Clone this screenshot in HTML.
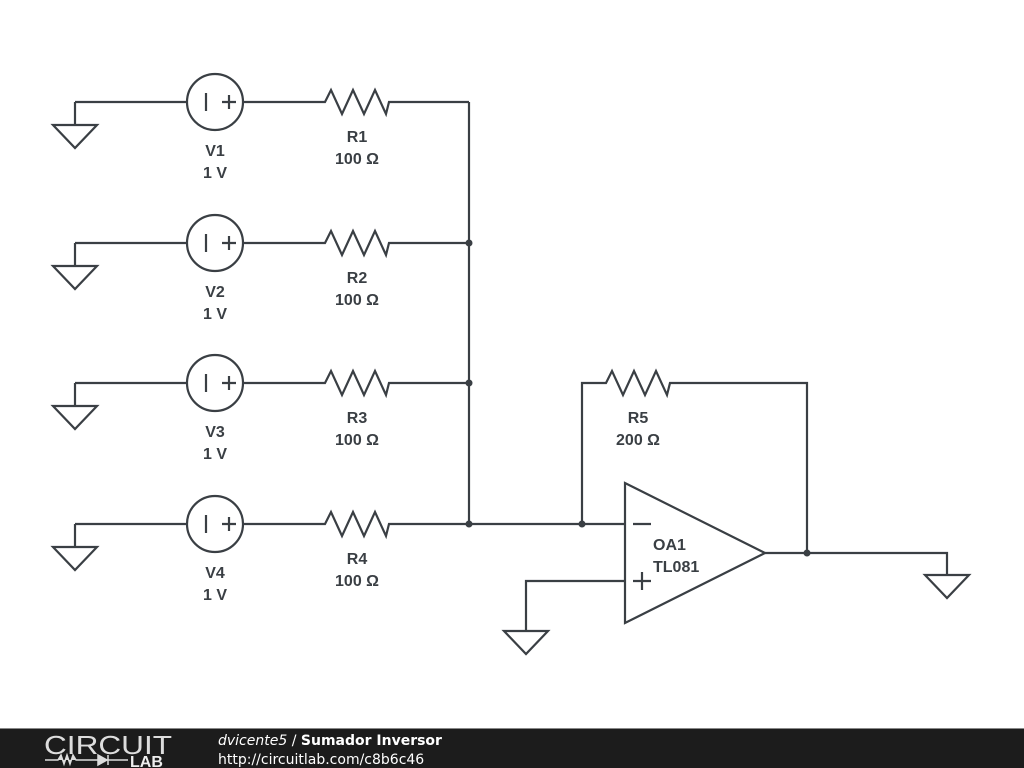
<!DOCTYPE html>
<html><head><style>
html,body{margin:0;padding:0;background:#fff;width:1024px;height:768px;overflow:hidden}
svg{display:block}
</style></head><body>
<svg width="1024" height="768" viewBox="0 0 1024 768" xmlns="http://www.w3.org/2000/svg">
<defs>
<g id="row" fill="none" stroke="#3a3f44" stroke-width="2.2">
  <path d="M75 0 H187 M75 0 V23 M53 23 H97 L75 46 Z"/>
  <circle cx="215" cy="0" r="28"/>
  <path d="M206 -9 V9 M222 0 H236 M229 -7 V7"/>
  <path d="M243 0 H325 L331 -12 L342 12 L353 -12 L364 12 L375 -12 L386 12 L389 0 H469"/>
</g>
</defs>
<use href="#row" y="102"/>
<use href="#row" y="243"/>
<use href="#row" y="383"/>
<use href="#row" y="524"/>
<g fill="none" stroke="#3a3f44" stroke-width="2.2">
  <path d="M469 102 V524 H625"/>
  <path d="M582 524 V383 H606 L612 371 L623 395 L634 371 L645 395 L656 371 L667 395 L670 383 H807 V553"/>
  <path d="M625 483 V623 L765 553 Z"/>
  <path d="M633 524 H651 M633 581 H651 M642 572 V590"/>
  <path d="M625 581 H526 V631 M504 631 H548 L526 654 Z"/>
  <path d="M765 553 H947 V575 M925 575 H969 L947 598 Z"/>
</g>
<g fill="#3a3f44">
  <circle cx="469" cy="243" r="3.5"/><circle cx="469" cy="383" r="3.5"/>
  <circle cx="469" cy="524" r="3.5"/><circle cx="582" cy="524" r="3.5"/>
  <circle cx="807" cy="553" r="3.5"/>
</g>
<g font-family="Liberation Sans, sans-serif" font-weight="bold" font-size="16" fill="#3a3f44" text-anchor="middle">
  <text x="215" y="156">V1</text><text x="215" y="178">1 V</text>
  <text x="357" y="142">R1</text><text x="357" y="164">100 Ω</text>
  <text x="215" y="297">V2</text><text x="215" y="319">1 V</text>
  <text x="357" y="283">R2</text><text x="357" y="305">100 Ω</text>
  <text x="215" y="437">V3</text><text x="215" y="459">1 V</text>
  <text x="357" y="423">R3</text><text x="357" y="445">100 Ω</text>
  <text x="215" y="578">V4</text><text x="215" y="600">1 V</text>
  <text x="357" y="564">R4</text><text x="357" y="586">100 Ω</text>
  <text x="638" y="423">R5</text><text x="638" y="445">200 Ω</text>
  <text x="653" y="550" text-anchor="start">OA1</text>
  <text x="653" y="572" text-anchor="start">TL081</text>
</g>
<rect x="0" y="729" width="1024" height="39" fill="#1c1c1c"/>
<rect x="0" y="728" width="1024" height="1" fill="#888"/>
<text x="44" y="754" font-family="Liberation Sans, sans-serif" font-size="26" fill="#ddd" textLength="128" lengthAdjust="spacingAndGlyphs">CIRCUIT</text>
<path d="M45 760 H58 L61 755 L64 764 L67 755 L70 764 L73 755 L76 760 H98 M98 755 L107 760 L98 765 Z M108 755 V765 M108 760 H128" stroke="#ddd" stroke-width="1.5" fill="#ddd"/>
<text x="130" y="767" font-family="Liberation Sans, sans-serif" font-weight="bold" font-size="16" fill="#eee">LAB</text>
<text x="218" y="745" font-family="DejaVu Sans, sans-serif" font-size="14" fill="#fff"><tspan font-style="italic">dvicente5</tspan> / <tspan font-weight="bold">Sumador Inversor</tspan></text>
<text x="218" y="764" font-family="DejaVu Sans, sans-serif" font-size="14" fill="#fff">http://circuitlab.com/c8b6c46</text>
</svg>
</body></html>
